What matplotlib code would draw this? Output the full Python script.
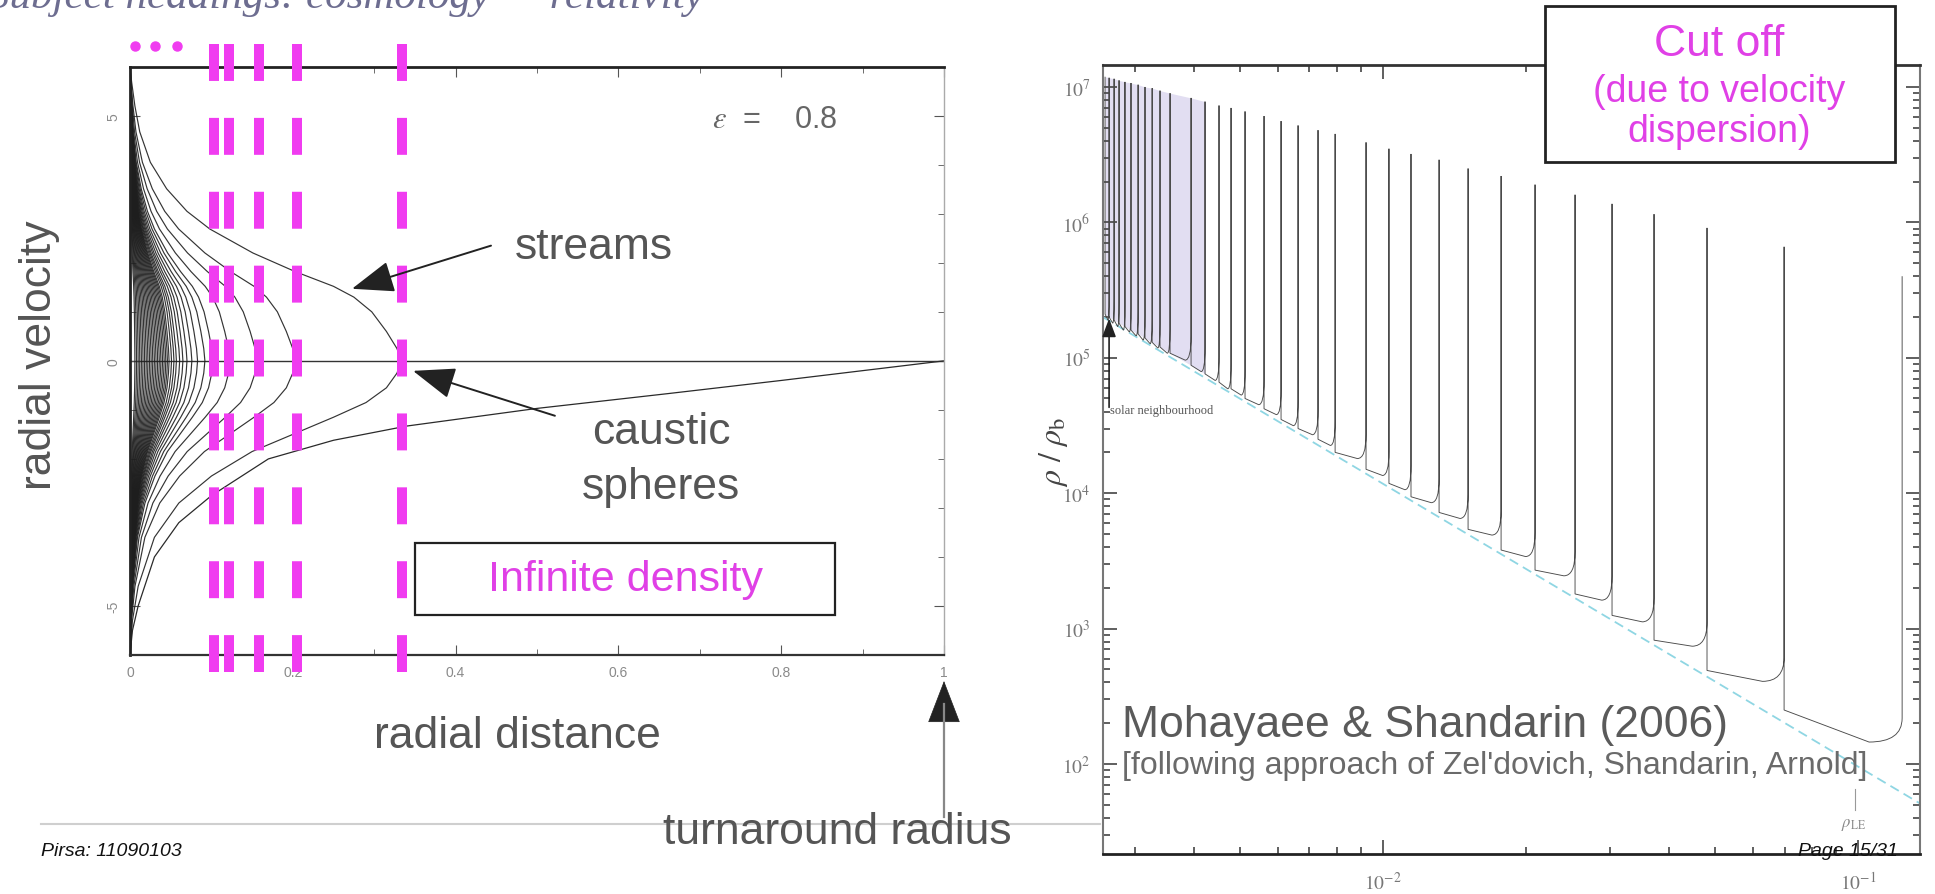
import matplotlib.pyplot as plt
import numpy as np
from matplotlib.path import Path
from matplotlib.patches import PathPatch, Rectangle
from matplotlib.ticker import FixedLocator, FuncFormatter, LogLocator, NullFormatter, MultipleLocator

plt.rcParams['font.family'] = ['Liberation Sans', 'DejaVu Sans']
plt.rcParams['mathtext.fontset'] = 'stix'
plt.rcParams['lines.scale_dashes'] = False

W, H = 1935, 895
MAG = '#f03cf0'
MAG_TXT = '#e040e6'
GREY_TXT = '#555555'

# ---------------- left panel: phase space (radial distance vs radial velocity)
# outermost stream tongue (upper branch 0 -> caustic, lower branch caustic -> 0)
tongue_up_r = [0.0, 0.002, 0.006, 0.012, 0.025, 0.045, 0.07, 0.098, 0.151, 0.203, 0.25, 0.275, 0.297, 0.315, 0.328, 0.333]
tongue_up_v = [6.0, 5.69, 5.2, 4.67, 4.05, 3.51, 3.05, 2.69, 2.2, 1.82, 1.52, 1.3, 1.0, 0.6, 0.25, 0.0]
tongue_lo_r = [0.333, 0.328, 0.315, 0.29, 0.25, 0.2, 0.15, 0.1, 0.06, 0.03, 0.01, 0.003, 0.0]
tongue_lo_v = [0.0, -0.25, -0.55, -0.85, -1.15, -1.5, -1.85, -2.35, -2.9, -3.6, -4.6, -5.3, -6.0]
# first infall stream from the turnaround radius
infall_r = [1.0, 0.8, 0.66, 0.5, 0.34, 0.25, 0.17, 0.1, 0.06, 0.03, 0.01, 0.003, 0.0]
infall_v = [0.0, -0.4, -0.67, -0.97, -1.33, -1.62, -2.0, -2.75, -3.3, -4.0, -5.0, -5.5, -6.0]
# caustic radii of the nested streams
caustic_r = [0.333, 0.203, 0.156, 0.123, 0.102, 0.092, 0.083, 0.076, 0.070, 0.065,
             0.061, 0.057, 0.054, 0.051, 0.048, 0.046, 0.044, 0.042, 0.040, 0.038,
             0.036, 0.034, 0.032, 0.030, 0.028, 0.026, 0.024, 0.022, 0.020, 0.018,
             0.016, 0.014, 0.012, 0.010, 0.008, 0.006]
caustic_marks = [0.103, 0.122, 0.158, 0.205, 0.334]
dots_r = [0.006, 0.031, 0.058]
left_xticks = [0, 0.2, 0.4, 0.6, 0.8, 1]
left_xlabels = ['0', '0.2', '0.4', '0.6', '0.8', '1']
left_yticks = [-5, 0, 5]
left_ylabels = ['-5', '0', '5']

# ---------------- right panel: density profile
dens_r = [0.002599, 0.002650, 0.002715, 0.002781, 0.002862, 0.002947, 0.003050, 0.003154,
          0.003265, 0.003392, 0.003561, 0.003943, 0.004219, 0.004515, 0.004786, 0.005122,
          0.005616, 0.006099, 0.006623, 0.007296, 0.007926, 0.009208, 0.01029, 0.01145,
          0.01312, 0.01510, 0.01772, 0.02089, 0.02536, 0.03034, 0.03719, 0.04808,
          0.06986, 0.1238]
dens_top = [1.19e7, 1.17e7, 1.15e7, 1.12e7, 1.09e7, 1.07e7, 1.04e7, 1.0e7,
            9.8e6, 9.4e6, 9.0e6, 8.3e6, 7.8e6, 7.3e6, 7.0e6, 6.6e6,
            6.1e6, 5.6e6, 5.2e6, 4.8e6, 4.5e6, 3.9e6, 3.5e6, 3.2e6,
            2.9e6, 2.5e6, 2.2e6, 1.9e6, 1.6e6, 1.37e6, 1.15e6, 9.1e5,
            6.6e5, 4.0e5]
bowl_start = [2.1e5, 2.0e5, 1.9e5, 1.8e5, 1.7e5, 1.6e5, 1.5e5, 1.4e5,
              1.3e5, 1.2e5, 1.08e5, 8.8e4, 7.6e4, 6.6e4, 5.9e4, 5.0e4,
              4.2e4, 3.5e4, 3.0e4, 2.5e4, 2.0e4, 1.5e4, 1.18e4, 9.4e3,
              7.2e3, 5.4e3, 3.8e3, 2.7e3, 1.8e3, 1.25e3, 820, 490, 250]
bowl_min = [1.9e5, 1.8e5, 1.7e5, 1.6e5, 1.55e5, 1.45e5, 1.35e5, 1.27e5,
            1.18e5, 1.08e5, 9.6e4, 7.9e4, 6.8e4, 5.9e4, 5.3e4, 4.5e4,
            3.8e4, 3.15e4, 2.7e4, 2.25e4, 1.8e4, 1.35e4, 1.06e4, 8.5e3,
            6.5e3, 4.9e3, 3.4e3, 2.45e3, 1.62e3, 1.12e3, 740, 407, 145]
le_r = [0.00257, 0.135]
le_rho = [2.0e5, 51]
right_yticks = [1e2, 1e3, 1e4, 1e5, 1e6, 1e7]
right_xticks = [1e-2, 1e-1]


def fx(px):
    return px / W


def fy(py):
    return 1 - py / H


fig = plt.figure(figsize=(W / 100, H / 100), dpi=100)
fig.patch.set_facecolor('white')

# =============== left axes
ax1 = fig.add_axes([fx(130), fy(656), 814 / W, (656 - 67.7) / H])
ax1.set_xlim(0, 1)
ax1.set_ylim(-6, 6)
ax1.axhline(0, color='#333333', lw=1.0, zorder=1)

for rc in caustic_r:
    s = rc / tongue_up_r[-1]
    r = np.concatenate([np.array(tongue_up_r) * s, np.array(tongue_lo_r[1:]) * s])
    v = np.concatenate([tongue_up_v, tongue_lo_v[1:]])
    ax1.plot(r, v, color='#1e1e1e', lw=0.85, alpha=0.9, zorder=2)
ax1.plot(infall_r, infall_v, color='#2a2a2a', lw=0.9, zorder=2)

for r in caustic_marks:
    ax1.plot([r, r], [6.47, -6.35], color=MAG, lw=7.2, dashes=(26.6, 26.6),
             dash_capstyle='butt', clip_on=False, zorder=6)
ax1.plot(dots_r, [6.43] * len(dots_r), 'o', ms=6.5, color=MAG, clip_on=False, zorder=6)

ax1.xaxis.set_major_locator(FixedLocator(left_xticks))
ax1.set_xticklabels(left_xlabels)
ax1.xaxis.set_minor_locator(MultipleLocator(0.1))
ax1.yaxis.set_major_locator(FixedLocator(left_yticks))
ax1.set_yticklabels(left_ylabels, rotation=90, va='center')
ax1.yaxis.set_minor_locator(MultipleLocator(1))
ax1.tick_params(which='both', direction='in', top=True, right=True, colors='#555555',
                labelcolor='#8a8a8a', labelsize=10)
ax1.tick_params(which='major', length=7, pad=7)
ax1.tick_params(which='minor', length=4)
for side, lw, c in [('top', 2.0, '#222222'), ('left', 2.0, '#222222'),
                    ('bottom', 1.6, '#333333'), ('right', 1.0, '#aaaaaa')]:
    ax1.spines[side].set_linewidth(lw)
    ax1.spines[side].set_color(c)

ax1.text(0.715, 4.94, r'$\epsilon$  =    0.8', fontsize=22, color='#666666', va='center')

arrow_kw = dict(arrowstyle='-|>,head_length=1.2,head_width=0.45', color='#222222', lw=1.4,
                shrinkA=0, shrinkB=0, mutation_scale=22)
ax1.annotate('', xy=(0.2727, 1.47), xytext=(0.4435, 2.35), arrowprops=arrow_kw, zorder=7)
ax1.annotate('', xy=(0.3477, -0.204), xytext=(0.522, -1.12), arrowprops=arrow_kw, zorder=7)

# =============== right axes
ax2 = fig.add_axes([fx(1103), fy(855), 817 / W, 789 / H])
ax2.set_xscale('log')
ax2.set_yscale('log')
ax2.set_xlim(0.002573, 0.135)
ax2.set_ylim(21.6, 1.453e7)

# dense caustics near the centre blur into a lavender band
ax2.fill_between(dens_r[:13], bowl_start[:13], dens_top[:13], color='#e2def2', lw=0, zorder=1)

verts = [(dens_r[0], dens_top[0]), (dens_r[0], bowl_start[0])]
codes = [Path.MOVETO, Path.LINETO]
for i in range(len(dens_r) - 1):
    r0, r1 = dens_r[i], dens_r[i + 1]
    ra = r0 * (r1 / r0) ** 0.72
    verts += [(ra, bowl_min[i]), (r1, bowl_min[i]), (r1, bowl_min[i] * 1.5), (r1, dens_top[i + 1])]
    codes += [Path.LINETO, Path.CURVE3, Path.CURVE3, Path.LINETO]
    if i + 1 < len(bowl_start):
        verts.append((r1, bowl_start[i + 1]))
        codes.append(Path.LINETO)
ax2.add_patch(PathPatch(Path(verts, codes), fill=False, edgecolor='#4a4a4a', lw=0.65, zorder=3))
ax2.plot(le_r, le_rho, color='#8fd6e3', lw=1.3, dashes=(7, 4), zorder=2)

ax2.yaxis.set_major_locator(FixedLocator(right_yticks))
ax2.yaxis.set_minor_locator(LogLocator(subs=range(2, 10), numticks=20))
ax2.xaxis.set_major_locator(FixedLocator(right_xticks))
ax2.xaxis.set_minor_locator(LogLocator(subs=range(2, 10), numticks=20))
ax2.yaxis.set_major_formatter(FuncFormatter(lambda v, p: r'$\mathrm{10^{%d}}$' % round(np.log10(v))))
ax2.xaxis.set_major_formatter(FuncFormatter(lambda v, p: r'$\mathrm{10^{%d}}$' % round(np.log10(v))))
ax2.xaxis.set_minor_formatter(NullFormatter())
ax2.yaxis.set_minor_formatter(NullFormatter())
ax2.tick_params(which='both', direction='in', top=True, right=True, colors='#444444',
                labelcolor='#777777', labelsize=14, width=1.2)
ax2.tick_params(which='major', length=10, pad=9)
ax2.tick_params(axis='x', which='major', pad=12)
ax2.tick_params(which='minor', length=5)
for side, lw, c in [('top', 2.0, '#333333'), ('left', 1.5, '#777777'),
                    ('bottom', 2.0, '#222222'), ('right', 1.5, '#777777')]:
    ax2.spines[side].set_linewidth(lw)
    ax2.spines[side].set_color(c)

ax2.annotate('', xy=(0.00265, 1.95e5), xytext=(0.00265, 4.3e4),
             arrowprops=dict(arrowstyle='-|>,head_length=0.8,head_width=0.3', color='#222222',
                             lw=1.2, shrinkA=0, shrinkB=0, mutation_scale=14), zorder=6)
ax2.text(0.00266, 4.1e4, 'solar neighbourhood', family='Liberation Serif', fontsize=9,
         color='#555555', va='center')
ax2.plot([0.0985, 0.0985], [65, 46], color='#999999', lw=0.8)
ax2.text(0.0977, 36, r'$\rho_{\rm LE}$', fontsize=12, color='#888888', ha='center', va='center')
ax2.text(0.00282, 10 ** 2.29, 'Mohayaee & Shandarin (2006)', fontsize=32, color='#5a5a5a',
         va='center', zorder=5)
ax2.text(0.00282, 10 ** 1.99, "[following approach of Zel'dovich, Shandarin, Arnold]",
         fontsize=23, color='#6a6a6a', va='center', zorder=5)

fig.text(fx(1054), fy(452), r'$\rho\ /\ \rho_{\rm b}$', rotation=90, fontsize=23,
         color='#444444', ha='center', va='center')

# =============== slide annotations
fig.text(fx(-12), fy(8), 'Subject headings: cosmology — relativity', family='Liberation Serif',
         style='italic', fontsize=31, color='#6d6d90', va='baseline')
fig.text(fx(40), fy(355), 'radial velocity', rotation=90, fontsize=32, color=GREY_TXT,
         ha='center', va='center')
fig.text(fx(515), fy(248), 'streams', fontsize=32, color=GREY_TXT, ha='left', va='center')
fig.text(fx(661), fy(433), 'caustic', fontsize=32, color=GREY_TXT, ha='center', va='center')
fig.text(fx(661), fy(488), 'spheres', fontsize=32, color=GREY_TXT, ha='center', va='center')
fig.text(fx(517), fy(737), 'radial distance', fontsize=32, color=GREY_TXT, ha='center', va='center')
fig.text(fx(663), fy(833), 'turnaround radius', fontsize=32, color=GREY_TXT, ha='left', va='center')

fig.add_artist(Rectangle((fx(415), fy(616)), (835 - 415) / W, (616 - 544) / H,
                         facecolor='white', edgecolor='#222222', lw=1.6, zorder=8))
fig.text(fx(625), fy(580), 'Infinite density', fontsize=31, color=MAG_TXT, ha='center',
         va='center', zorder=9)

fig.add_artist(Rectangle((fx(1545), fy(163)), (1895 - 1545) / W, (163 - 7) / H,
                         facecolor='white', edgecolor='#222222', lw=2, zorder=8))
fig.text(fx(1719), fy(45), 'Cut off', fontsize=32, color=MAG_TXT, ha='center', va='center', zorder=9)
fig.text(fx(1719), fy(92), '(due to velocity', fontsize=27, color=MAG_TXT, ha='center',
         va='center', zorder=9)
fig.text(fx(1719), fy(132), 'dispersion)', fontsize=27, color=MAG_TXT, ha='center',
         va='center', zorder=9)

fig.add_artist(plt.Line2D([fx(41), fx(1100)], [fy(825), fy(825)], color='#cfcfcf', lw=1.5, zorder=0))
fig.add_artist(plt.Line2D([fx(944), fx(944)], [fy(818), fy(705)], color='#888888', lw=1.6, zorder=3))
ax1.annotate('', xy=(fx(944), fy(682)), xytext=(fx(944), fy(712)), xycoords='figure fraction',
             textcoords='figure fraction',
             arrowprops=dict(arrowstyle='-|>,head_length=1.3,head_width=0.5', color='#222222',
                             lw=0.5, shrinkA=0, shrinkB=0, mutation_scale=22))

fig.text(fx(41), fy(852), 'Pirsa: 11090103', style='italic', fontsize=14, color='#111111',
         ha='left', va='center')
fig.text(fx(1898), fy(852), 'Page 15/31', style='italic', fontsize=14, color='#111111',
         ha='right', va='center', zorder=10)

fig.savefig('out.png', dpi=100, facecolor='white')
